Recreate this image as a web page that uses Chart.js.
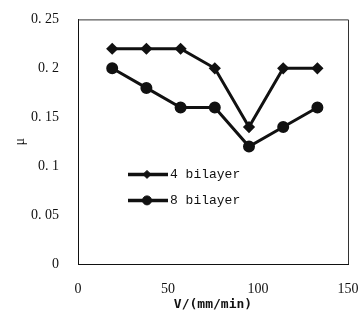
<!DOCTYPE html>
<html>
<head>
<meta charset="utf-8">
<script src="https://cdn.jsdelivr.net/npm/chart.js@4/dist/chart.umd.min.js"></script>
<style>
    body { margin: 0; background: #fff; }
    #wrap { width: 360px; height: 327px; position: relative; }
</style>
</head>
<body>
<div id="wrap"><canvas id="mu-chart"></canvas></div>
<script>
// speed V (mm/min)
var speeds = [19, 38, 57, 76, 95, 114, 133];
// friction coefficient
var mu4 = [0.22, 0.22, 0.22, 0.20, 0.14, 0.20, 0.20];
var mu8 = [0.20, 0.18, 0.16, 0.16, 0.12, 0.14, 0.16];
var seriesNames = ["4 bilayer", "8 bilayer"];
var yTickLabels = { "0": "0", "0.05": "0. 05", "0.1": "0. 1", "0.15": "0. 15", "0.2": "0. 2", "0.25": "0. 25" };

var ink = '#111';
var fontFamily = "'Liberation Serif', 'DejaVu Serif', serif";

function toPoints(xs, ys) {
    var pts = [];
    for (var i = 0; i < xs.length; i++) {
        pts.push({ x: xs[i], y: ys[i] });
    }
    return pts;
}

// top/right frame + legend inside the plot
var framePlugin = {
    id: 'frame',
    afterDraw: function (chart) {
        var ctx = chart.ctx;
        var a = chart.chartArea;
        ctx.save();
        ctx.strokeStyle = '#333';
        ctx.lineWidth = 1;
        ctx.beginPath();
        ctx.moveTo(a.left, a.top + 0.5);
        ctx.lineTo(a.right + 0.5, a.top + 0.5);
        ctx.lineTo(a.right + 0.5, a.bottom);
        ctx.stroke();

        // legend
        var styles = ['rectRot', 'circle'];
        var radii = [4, 4.5];
        for (var i = 0; i < seriesNames.length; i++) {
            var y = a.top + 155 + i * 26;
            var x0 = a.left + 50;
            ctx.strokeStyle = ink;
            ctx.lineWidth = 3.5;
            ctx.beginPath();
            ctx.moveTo(x0, y);
            ctx.lineTo(x0 + 40, y);
            ctx.stroke();
            ctx.fillStyle = ink;
            ctx.lineWidth = 1;
            Chart.helpers.drawPoint(ctx, { pointStyle: styles[i], radius: radii[i], borderWidth: 1 }, x0 + 19, y);
            ctx.font = '13px ' + "'Liberation Mono', monospace";
            ctx.textBaseline = 'middle';
            ctx.fillText(seriesNames[i], x0 + 42, y);
        }
        ctx.restore();
    }
};

var ctx = document.getElementById('mu-chart').getContext('2d');
var myChart = new Chart(ctx, {
    type: 'line',
    data: {
        datasets: [
            {
                label: seriesNames[0],
                data: toPoints(speeds, mu4),
                borderColor: ink,
                backgroundColor: ink,
                borderWidth: 3,
                pointStyle: 'rectRot',
                pointRadius: 4,
                tension: 0
            }, {
                label: seriesNames[1],
                data: toPoints(speeds, mu8),
                borderColor: ink,
                backgroundColor: ink,
                borderWidth: 3,
                pointStyle: 'circle',
                pointRadius: 4.5,
                tension: 0
            }
        ]
    },
    options: {
        responsive: true,
        maintainAspectRatio: false,
        animation: false,
        layout: {
            padding: { top: 16, right: 0, left: 0, bottom: 0 }
        },
        plugins: {
            legend: { display: false },
            tooltip: { enabled: false }
        },
        scales: {
            x: {
                type: 'linear',
                min: 0,
                max: 150,
                grid: { display: false },
                border: { display: true, color: ink, width: 1 },
                ticks: {
                    stepSize: 50,
                    color: ink,
                    padding: 9,
                    maxRotation: 0,
                    font: { family: fontFamily, size: 14 }
                },
                title: {
                    display: true,
                    text: 'V/(mm/min)',
                    color: ink,
                    padding: { top: 0, bottom: 15 },
                    font: { family: "'DejaVu Sans Mono', monospace", size: 13, weight: 'bold' }
                },
                afterFit: function (scale) {
                    scale.height = 63;
                    scale.paddingRight = 12;
                }
            },
            y: {
                min: 0,
                max: 0.25,
                grid: { display: false },
                border: { display: true, color: ink, width: 1 },
                ticks: {
                    stepSize: 0.05,
                    color: ink,
                    padding: 11,
                    font: { family: fontFamily, size: 14 },
                    callback: function (value) {
                        var key = String(Math.round(value * 100) / 100);
                        return yTickLabels[key] !== undefined ? yTickLabels[key] : key;
                    }
                },
                title: {
                    display: true,
                    text: 'μ',
                    color: ink,
                    padding: { top: 12, bottom: 0 },
                    font: { family: fontFamily, size: 14 }
                },
                afterFit: function (scale) { scale.width = 78; }
            }
        }
    },
    plugins: [framePlugin]
});
</script>
</body>
</html>
